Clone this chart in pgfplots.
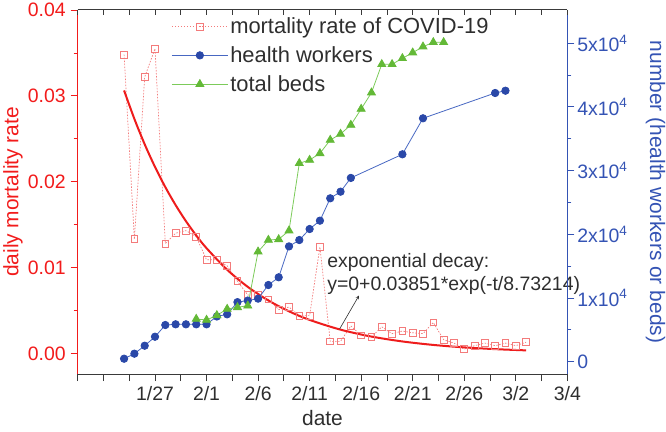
\documentclass[border=0pt]{standalone}
\usepackage{pgfplots}
\pgfplotsset{compat=1.18}
\usepackage{pgfplotstable}
\usepackage{fontspec}
\setmainfont{Liberation Sans}
\definecolor{redax}{HTML}{F21B1B}
\definecolor{mortc}{HTML}{F37B7B}
\definecolor{fitc}{HTML}{EE1C1C}
\definecolor{blueax}{HTML}{3453B4}
\definecolor{bluem}{HTML}{2A48A8}
\definecolor{bluel}{HTML}{4767C2}
\definecolor{greenm}{HTML}{63B937}
\definecolor{greenl}{HTML}{7CCB5A}
\definecolor{txt}{HTML}{2E2E2E}
\definecolor{spine}{HTML}{3A3A3A}

\pgfplotstableread{
day rate
24 0.0348
25 0.0133
26 0.0322
27 0.0355
28 0.0128
29 0.0140
30 0.0143
31 0.0136
32 0.0109
33 0.0109
34 0.0102
35 0.0084
36 0.0068
37 0.0068
38 0.0063
39 0.0051
40 0.0054
41 0.0044
42 0.0044
43 0.0124
44 0.0014
45 0.0014
46 0.0032
47 0.0021
48 0.0019
49 0.0031
50 0.0023
51 0.0026
52 0.0024
53 0.0023
54 0.0036
55 0.0016
56 0.0012
57 0.0005
58 0.0009
59 0.0012
60 0.0009
61 0.0012
62 0.0009
63 0.0013
}\mortality

\pgfplotstableread{
day fit
24 0.030627
25 0.027313
26 0.024357
27 0.021722
28 0.019372
29 0.017276
30 0.015406
31 0.013739
32 0.012252
34 0.009744
36 0.007750
38 0.006163
40 0.004902
42 0.003898
45 0.002765
48 0.001961
51 0.001391
54 0.000986
57 0.000700
60 0.000496
63 0.000352
}\fitcurve

\pgfplotstableread{
day n
24 470
25 1260
26 2510
27 3920
28 5760
29 5870
30 5870
31 5870
32 5870
33 7100
34 7440
35 9350
36 9600
37 9900
38 12040
39 13250
40 18100
41 19100
42 20830
43 22140
44 25650
45 26690
46 28850
51 32560
53 38210
60 42180
61 42540
}\health

\pgfplotstableread{
day n
31 6700
32 6550
33 7280
34 8270
35 8540
36 8790
37 17270
38 19100
39 19210
40 20570
41 31150
42 31660
43 32710
44 34800
45 35750
46 37160
47 39670
48 42230
49 46690
50 46690
51 47630
52 48510
53 49450
54 50140
55 50140
}\beds

\begin{document}
\begin{tikzpicture}
\useasboundingbox (-77.7bp,-58bp) rectangle (588.3bp,374bp);
\pgfplotsset{
  base/.style={
    scale only axis, width=489.6bp, height=364bp,
    xmin=19.5, xmax=67,
    /pgf/number format/assume math mode=true,
    major tick length=7bp, minor tick length=4bp,
    every tick/.style={line width=0.8bp},
    every minor tick/.style={line width=0.8bp},
    ticklabel style={font=\fontsize{19.5}{22}\selectfont},
    xtick={19.5,22,...,67},
  }
}
\begin{axis}[base,
  clip=false,
  axis x line*=bottom, axis y line*=left,
  x axis line style={spine, line width=1bp, -},
  y axis line style={redax, line width=1bp, -},
  tick align=outside,
  xticklabels={,,,1/27,,2/1,,2/6,,2/11,,2/16,,2/21,,2/26,,3/2,,3/4},
  x tick style={spine},
  xticklabel style={text=txt, yshift=-2bp},
  ymin=-0.0024, ymax=0.04,
  ytick={0,0.01,0.02,0.03,0.04},
  yticklabels={0.00,0.01,0.02,0.03,0.04},
  minor ytick={0.005,0.015,0.025,0.035},
  y tick style={redax},
  yticklabel style={text=redax, xshift=-1.5bp},
  xlabel={date},
  xlabel style={at={(axis description cs:0.5,-0.121)}, anchor=center, font=\fontsize{21}{24}\selectfont, text=txt},
  ylabel={daily mortality rate},
  ylabel style={at={(axis description cs:-0.132,0.5)}, anchor=center, font=\fontsize{21}{24}\selectfont, text=redax},
]
\addplot[mortc, line width=0.7bp, dash pattern=on 1.5bp off 1.5bp, mark=square, mark size=3.4bp, mark options={solid, line width=0.8bp}] table[x=day,y=rate]{\mortality};
\addplot[fitc, line width=2bp, smooth] table[x=day,y=fit]{\fitcurve};
\node[anchor=base west, font=\fontsize{19.5}{22}\selectfont, text=txt, inner sep=0pt] at (axis cs:43.7,0.0100) {exponential decay:};
\node[anchor=base west, font=\fontsize{19.5}{22}\selectfont, text=txt, inner sep=0pt] at (axis cs:43.7,0.00738) {y=0+0.03851*exp(-t/8.73214)};
\draw[-stealth, txt, line width=0.6bp] (axis cs:44.91,0.00284) -- (axis cs:46.79,0.00674);
\end{axis}

\begin{axis}[base,
  axis y line*=right, axis x line=none,
  xticklabels={,,,,,,,,,,,,,,,,,,,},
  tick align=outside,
  ymin=-1930, ymax=55210,
  ytick={0,10000,20000,30000,40000,50000},
  yticklabels={0,1x10\textsuperscript{4},2x10\textsuperscript{4},3x10\textsuperscript{4},4x10\textsuperscript{4},5x10\textsuperscript{4}},
  minor ytick={5000,15000,25000,35000,45000},
  y axis line style={blueax, line width=1bp, -},
  y tick style={blueax},
  yticklabel style={text=blueax, xshift=-0.5bp},
  ylabel={number (health workers or beds)},
  ylabel style={at={(axis description cs:1.18,0.5)}, anchor=center, rotate=180, font=\fontsize{21}{24}\selectfont, text=blueax},
  legend style={at={(axis description cs:0.185,0.99)}, anchor=north west, draw=none, fill=none, font=\fontsize{22}{26}\selectfont, text=txt, row sep=7.5bp},
  legend cell align=left,
  legend image code/.code={\draw[mark repeat=2, mark phase=2, #1] plot coordinates {(0bp,0bp) (28bp,0bp) (56bp,0bp)};},
]
\addlegendimage{mortc, line width=0.7bp, dash pattern=on 1.5bp off 1.5bp, mark=square, mark size=3.4bp, mark options={solid, line width=0.8bp}}
\addlegendentry{mortality rate of COVID-19}
\addplot[bluel, line width=0.8bp, mark=*, mark size=3.7bp, mark options={bluem, fill=bluem}] table[x=day,y=n]{\health};
\addlegendentry{health workers}
\addplot[greenl, line width=0.8bp, mark=triangle*, mark size=4.6bp, mark options={greenm, fill=greenm}] table[x=day,y=n]{\beds};
\addlegendentry{total beds}
\end{axis}

\begin{axis}[base,
  axis x line*=top, axis y line=none,
  tick align=inside,
  major tick length=5bp,
  xticklabels={,,,,,,,,,,,,,,,,,,,},
  ytick=\empty,
  x axis line style={spine, line width=1bp, -},
  x tick style={spine},
  ymin=0, ymax=1,
]
\end{axis}
\end{tikzpicture}
\end{document}
